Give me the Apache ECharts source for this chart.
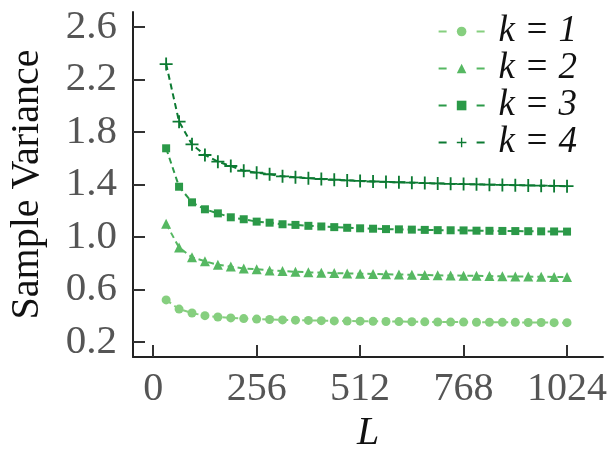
<!DOCTYPE html>
<html>
<head>
<meta charset="utf-8">
<script src="https://cdn.jsdelivr.net/npm/echarts@6/dist/echarts.min.js"></script>
<style>
  html, body { margin: 0; padding: 0; background: #fff; }
  #chart { width: 615px; height: 450px; }
</style>
</head>
<body>
<div id="chart"></div>
<script>
// L values: 32, 64, ... 1024
var lengths = [32, 64, 96, 128, 160, 192, 224, 256, 288, 320, 352, 384, 416, 448, 480, 512,
               544, 576, 608, 640, 672, 704, 736, 768, 800, 832, 864, 896, 928, 960, 992, 1024];

var k1 = [0.52, 0.45, 0.42, 0.40, 0.39, 0.383, 0.378, 0.374, 0.371, 0.368, 0.366, 0.364, 0.362, 0.360, 0.359, 0.358,
          0.357, 0.356, 0.355, 0.354, 0.353, 0.352, 0.351, 0.351, 0.350, 0.350, 0.349, 0.349, 0.348, 0.348, 0.347, 0.347];
var k2 = [1.10, 0.92, 0.845, 0.815, 0.788, 0.774, 0.76, 0.754, 0.745, 0.74, 0.735, 0.731, 0.728, 0.725, 0.722, 0.72,
          0.718, 0.716, 0.714, 0.712, 0.71, 0.708, 0.706, 0.705, 0.704, 0.702, 0.700, 0.699, 0.698, 0.697, 0.695, 0.694];
var k3 = [1.676, 1.383, 1.264, 1.211, 1.18, 1.15, 1.135, 1.117, 1.109, 1.097, 1.092, 1.085, 1.08, 1.075, 1.07, 1.066,
          1.063, 1.06, 1.058, 1.056, 1.054, 1.052, 1.051, 1.05, 1.048, 1.047, 1.046, 1.045, 1.044, 1.043, 1.042, 1.041];
var k4 = [2.318, 1.879, 1.706, 1.625, 1.574, 1.541, 1.505, 1.49, 1.478, 1.462, 1.455, 1.448, 1.442, 1.436, 1.431, 1.427,
          1.423, 1.42, 1.417, 1.414, 1.411, 1.408, 1.405, 1.403, 1.401, 1.399, 1.397, 1.395, 1.393, 1.391, 1.389, 1.387];

var xTicks = [0, 256, 512, 768, 1024];
var yTicks = [0.2, 0.6, 1.0, 1.4, 1.8, 2.2, 2.6];

var names = ['k = 1', 'k = 2', 'k = 3', 'k = 4'];
var colors = ['#86cf7f', '#56b862', '#2b9948', '#0c7a32'];
var plus = 'path://M4.3,0h1.4v4.3h4.3v1.4h-4.3v4.3h-1.4v-4.3h-4.3v-1.4h4.3z';
var symbols = ['circle', 'triangle', 'rect', plus];
var sizes = [9, 10, 8, 13];

function pairs(vals) {
  return lengths.map(function (l, i) { return [l, vals[i]]; });
}

var W = 615, H = 450;
var G = { left: 133, right: 12, top: 12, bottom: 93 };
var xMin = -50, xMax = 1113, yMin = 0.085, yMax = 2.715;
var xStep = 256, yStep = 0.4;

// second (tick-only) grid: same scale, but starting at the first tick so ticks land on 0/256/.. and 0.2/0.6/..
var pxX = (W - G.left - G.right) / (xMax - xMin);
var pxY = (H - G.top - G.bottom) / (yMax - yMin);
var x0 = G.left + (xTicks[0] - xMin) * pxX;
var y0 = H - G.bottom - (yTicks[0] - yMin) * pxY;
var tMaxX = xTicks[xTicks.length - 1] + xStep;
var tMaxY = yTicks[yTicks.length - 1] + yStep;
var G2 = {
  left: x0,
  right: W - x0 - (tMaxX - xTicks[0]) * pxX,
  bottom: H - y0,
  top: y0 - (tMaxY - yTicks[0]) * pxY
};

var chart = echarts.init(document.getElementById('chart'));
var serif = '"Liberation Serif", "DejaVu Serif", serif';

var series = [k1, k2, k3, k4].map(function (vals, i) {
  return {
    name: names[i],
    type: 'line',
    data: pairs(vals),
    symbol: symbols[i],
    symbolSize: sizes[i],
    showAllSymbol: true,
    color: colors[i],
    lineStyle: { width: 2, type: [6, 4], color: colors[i] },
    itemStyle: { color: colors[i] },
    animation: false
  };
});

var tickStyle = { show: true, inside: true, length: 12, lineStyle: { color: '#333', width: 2 } };

var option = {
  backgroundColor: '#fff',
  grid: [
    { left: G.left, right: G.right, top: G.top, bottom: G.bottom, containLabel: false, outerBoundsMode: 'none' },
    { left: G2.left, right: G2.right, top: G2.top, bottom: G2.bottom, containLabel: false, outerBoundsMode: 'none' }
  ],
  legend: {
    orient: 'vertical',
    right: 33,
    top: 8,
    itemWidth: 46,
    itemHeight: 12,
    itemGap: 0,
    data: names,
    lineStyle: { type: [8, 30], width: 2 },
    textStyle: { fontFamily: serif, fontStyle: 'italic', fontSize: 37, lineHeight: 36, color: '#111', padding: [0, 0, 0, 9] }
  },
  xAxis: [{
    type: 'value',
    gridIndex: 0,
    min: xMin,
    max: xMax,
    name: 'L',
    nameLocation: 'middle',
    nameGap: 48,
    nameTextStyle: { fontFamily: serif, fontStyle: 'italic', fontSize: 40, color: '#111' },
    axisLine: { onZero: false, lineStyle: { color: '#222', width: 2 } },
    axisTick: { show: false },
    axisLabel: {
      customValues: xTicks, fontFamily: serif, fontSize: 40, color: '#555', margin: 12,
      formatter: function (v) { return String(v); }
    },
    splitLine: { show: false }
  }, {
    type: 'value',
    gridIndex: 1,
    min: xTicks[0],
    max: tMaxX,
    interval: xStep,
    offset: y0 - (H - G.bottom) < 0 ? (H - G.bottom) - y0 : 0,
    axisLine: { show: false, onZero: false },
    axisTick: tickStyle,
    axisLabel: { show: false },
    splitLine: { show: false }
  }],
  yAxis: [{
    type: 'value',
    gridIndex: 0,
    min: yMin,
    max: yMax,
    name: 'Sample Variance',
    nameLocation: 'middle',
    nameGap: 86,
    nameTextStyle: { fontFamily: serif, fontSize: 40, color: '#111' },
    axisLine: { show: true, onZero: false, lineStyle: { color: '#222', width: 2 } },
    axisTick: { show: false },
    axisLabel: {
      customValues: yTicks, fontFamily: serif, fontSize: 41, color: '#555', margin: 16,
      formatter: function (v) { return v.toFixed(1); }
    },
    splitLine: { show: false }
  }, {
    type: 'value',
    gridIndex: 1,
    min: yTicks[0],
    max: tMaxY,
    interval: yStep,
    offset: x0 - G.left,
    axisLine: { show: false, onZero: false },
    axisTick: tickStyle,
    axisLabel: { show: false },
    splitLine: { show: false }
  }],
  series: series
};

chart.setOption(option);
</script>
</body>
</html>
